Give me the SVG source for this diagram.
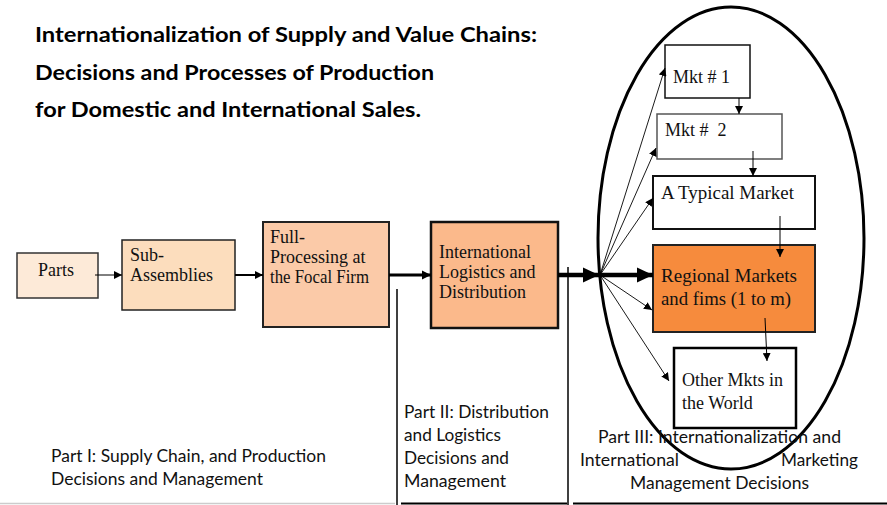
<svg xmlns="http://www.w3.org/2000/svg" width="887" height="505" viewBox="0 0 887 505">
  <style>
    .title { font-family: Lato, "Open Sans", "Liberation Sans", sans-serif; font-weight: bold; font-size: 21px; fill: #000; }
    .part { font-family: Lato, "Open Sans", "Liberation Sans", sans-serif; font-size: 16.5px; fill: #111; }
    .box { font-family: "Liberation Serif", "Times New Roman", serif; font-size: 18px; fill: #111; }
    .edge { fill: none; stroke: #000; }
  </style>
  <defs>
    <marker id="ah-s" markerUnits="userSpaceOnUse" markerWidth="9" markerHeight="8" refX="8" refY="4" orient="auto">
      <path d="M0,0 L8,4 L0,8 Z" fill="#000"/>
    </marker>
    <marker id="ah-m" markerUnits="userSpaceOnUse" markerWidth="10" markerHeight="10" refX="9" refY="5" orient="auto">
      <path d="M0,0.5 L9,5 L0,9.5 Z" fill="#000"/>
    </marker>
    <marker id="ah-l" markerUnits="userSpaceOnUse" markerWidth="17" markerHeight="16" refX="16" refY="8" orient="auto">
      <path d="M0,0.5 L16,8 L0,15.5 Z" fill="#000"/>
    </marker>
  </defs>

  <rect width="887" height="505" fill="#fff"/>

  <!-- heading -->
  <g id="title">
    <text class="title" x="35" y="42" textLength="502" lengthAdjust="spacingAndGlyphs">Internationalization of Supply and Value Chains:</text>
    <text class="title" x="35" y="80" textLength="399" lengthAdjust="spacingAndGlyphs">Decisions and Processes of Production</text>
    <text class="title" x="35" y="117" textLength="386" lengthAdjust="spacingAndGlyphs">for Domestic and International Sales.</text>
  </g>

  <!-- market region -->
  <g id="market-region">
    <ellipse cx="731" cy="238" rx="133" ry="231" fill="none" stroke="#000" stroke-width="3"/>
  </g>

  <!-- process chain -->
  <g id="parts">
    <rect x="17" y="253" width="81" height="45" fill="#fdead8" stroke="#333" stroke-width="1.5"/>
    <text class="box" x="38" y="276">Parts</text>
  </g>
  <g id="sub-assemblies">
    <rect x="122" y="240" width="113" height="70" fill="#fcddbd" stroke="#222" stroke-width="1.5"/>
    <text class="box" x="130" y="261">Sub-</text>
    <text class="box" x="130" y="281">Assemblies</text>
  </g>
  <g id="full-processing">
    <rect x="263" y="222" width="126" height="105" fill="#fbcaa8" stroke="#222" stroke-width="2"/>
    <text class="box" x="270" y="243">Full-</text>
    <text class="box" x="270" y="263">Processing at</text>
    <text class="box" x="270" y="283" textLength="99" lengthAdjust="spacingAndGlyphs">the Focal Firm</text>
  </g>
  <g id="logistics">
    <rect x="431" y="222" width="127" height="106" fill="#fbb98b" stroke="#111" stroke-width="2.5"/>
    <text class="box" x="439" y="258">International</text>
    <text class="box" x="439" y="278">Logistics and</text>
    <text class="box" x="439" y="298">Distribution</text>
  </g>

  <!-- markets -->
  <g id="mkt-1">
    <rect x="665" y="45" width="85" height="53" fill="#fff" stroke="#111" stroke-width="1.5"/>
    <text class="box" x="673" y="83">Mkt # 1</text>
  </g>
  <g id="mkt-2">
    <rect x="657" y="114" width="125" height="45" fill="#fff" stroke="#555" stroke-width="1.5"/>
    <text class="box" x="665" y="136" xml:space="preserve">Mkt #  2</text>
  </g>
  <g id="typical-market">
    <rect x="653" y="176" width="162" height="53" fill="#fff" stroke="#111" stroke-width="2"/>
    <text class="box" x="661" y="199" textLength="133" lengthAdjust="spacingAndGlyphs">A Typical Market</text>
  </g>
  <g id="regional-markets">
    <rect x="653" y="245" width="162" height="87" fill="#f68b3d" stroke="#222" stroke-width="2"/>
    <text class="box" x="661" y="282" textLength="136" lengthAdjust="spacingAndGlyphs">Regional Markets</text>
    <text class="box" x="661" y="305" textLength="130" lengthAdjust="spacingAndGlyphs">and fims (1 to m)</text>
  </g>
  <g id="other-markets">
    <rect x="674" y="348" width="122" height="80" fill="#fff" stroke="#000" stroke-width="2.5"/>
    <text class="box" x="682" y="386">Other Mkts in</text>
    <text class="box" x="682" y="409">the World</text>
  </g>

  <!-- connectors -->
  <g id="connectors">
    <line class="edge" x1="95" y1="275" x2="122" y2="275" stroke-width="1" marker-end="url(#ah-s)"/>
    <line class="edge" x1="235" y1="275" x2="263" y2="275" stroke-width="2" marker-end="url(#ah-s)"/>
    <line class="edge" x1="389" y1="275" x2="431" y2="275" stroke-width="3" marker-end="url(#ah-m)"/>
    <line class="edge" x1="558" y1="275" x2="599" y2="275" stroke-width="4.5" marker-end="url(#ah-l)"/>
    <line class="edge" x1="600" y1="275" x2="653" y2="275" stroke-width="4.5" marker-end="url(#ah-l)"/>

    <!-- fan-out to each market -->
    <line class="edge" x1="600" y1="275" x2="665" y2="68" stroke-width="0.9" marker-end="url(#ah-s)"/>
    <line class="edge" x1="600" y1="275" x2="656" y2="148" stroke-width="0.9" marker-end="url(#ah-s)"/>
    <line class="edge" x1="600" y1="275" x2="653" y2="198" stroke-width="0.9" marker-end="url(#ah-s)"/>
    <line class="edge" x1="600" y1="275" x2="652" y2="310" stroke-width="0.9" marker-end="url(#ah-s)"/>
    <line class="edge" x1="600" y1="275" x2="669" y2="381" stroke-width="0.9" marker-end="url(#ah-s)"/>

    <!-- market to market -->
    <line class="edge" x1="739" y1="98" x2="739" y2="114" stroke-width="1" marker-end="url(#ah-s)"/>
    <line class="edge" x1="753" y1="151" x2="753" y2="176" stroke-width="1" marker-end="url(#ah-s)"/>
    <line class="edge" x1="780" y1="216" x2="780" y2="257" stroke-width="1" marker-end="url(#ah-s)"/>
    <line class="edge" x1="765" y1="318" x2="767" y2="361" stroke-width="1" marker-end="url(#ah-s)"/>
  </g>

  <!-- section dividers -->
  <g id="dividers" stroke="#000" stroke-width="1.5">
    <line x1="397" y1="289" x2="397" y2="505"/>
    <line x1="568" y1="267" x2="568" y2="505"/>
    <line x1="401" y1="503.5" x2="567" y2="503.5" stroke-width="2"/>
    <line x1="573" y1="503.5" x2="887" y2="503.5" stroke-width="2"/>
    <line x1="0" y1="503.5" x2="395" y2="503.5" stroke="#ccc" stroke-width="1.5"/>
  </g>

  <!-- section labels -->
  <g id="part-1">
    <text class="part" x="51" y="462" textLength="275" lengthAdjust="spacingAndGlyphs">Part I: Supply Chain, and Production</text>
    <text class="part" x="51" y="485" textLength="212" lengthAdjust="spacingAndGlyphs">Decisions and Management</text>
  </g>
  <g id="part-2">
    <text class="part" x="404" y="418" textLength="145" lengthAdjust="spacingAndGlyphs">Part II: Distribution</text>
    <text class="part" x="404" y="441" textLength="97" lengthAdjust="spacingAndGlyphs">and Logistics</text>
    <text class="part" x="404" y="464" textLength="105" lengthAdjust="spacingAndGlyphs">Decisions and</text>
    <text class="part" x="404" y="487" textLength="102" lengthAdjust="spacingAndGlyphs">Management</text>
  </g>
  <g id="part-3">
    <text class="part" x="598" y="443" textLength="243" lengthAdjust="spacingAndGlyphs">Part III: Internationalization and</text>
    <text class="part" x="580" y="466" textLength="99" lengthAdjust="spacingAndGlyphs">International</text>
    <text class="part" x="781" y="466" textLength="77" lengthAdjust="spacingAndGlyphs">Marketing</text>
    <text class="part" x="630" y="489" textLength="179" lengthAdjust="spacingAndGlyphs">Management Decisions</text>
  </g>
</svg>
